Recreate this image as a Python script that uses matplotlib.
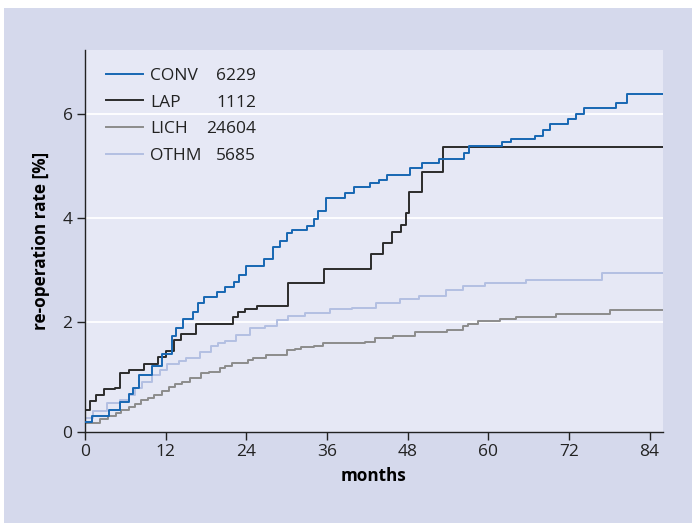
import matplotlib
matplotlib.use("Agg")
import matplotlib.pyplot as plt
from matplotlib.patches import Rectangle

# %%
# step curves: (month, re-operation rate %)
conv_months = [0, 1.1, 3.6, 5.2, 6.6, 7.2, 8.1, 9.9, 11.4, 12.9, 13.6, 14.6, 16.1, 16.8, 17.7,
               19.6, 20.9, 22.2, 22.9, 23.9, 26.7, 27.9, 29.0, 30.0, 30.8, 33.0, 34.0, 34.7,
               35.9, 38.7, 40.0, 42.4, 43.7, 44.9, 48.4, 50.2, 52.7, 56.4, 57.1, 62.1, 63.4,
               67.0, 68.2, 69.2, 71.8, 73.1, 74.3, 79.0, 80.7, 86]
conv_rate = [0.06, 0.17, 0.29, 0.44, 0.61, 0.71, 0.97, 1.14, 1.37, 1.72, 1.87, 2.05, 2.18, 2.36,
             2.48, 2.57, 2.67, 2.76, 2.90, 3.08, 3.21, 3.44, 3.56, 3.70, 3.77, 3.85, 3.98, 4.14,
             4.39, 4.48, 4.60, 4.67, 4.74, 4.82, 4.96, 5.06, 5.14, 5.25, 5.39, 5.46, 5.52, 5.59,
             5.70, 5.81, 5.91, 6.01, 6.13, 6.21, 6.39, 6.39]

lap_months = [0, 0.7, 1.7, 2.85, 4.5, 5.2, 6.5, 8.75, 10.9, 12.1, 13.3, 14.3, 16.5, 21.95, 22.7,
              23.8, 25.6, 30.2, 35.6, 42.6, 44.4, 45.7, 47.0, 47.7, 48.2, 50.2, 53.2, 86]
lap_rate = [0.30, 0.46, 0.59, 0.70, 0.72, 1.01, 1.06, 1.18, 1.32, 1.44, 1.64, 1.77, 1.95, 2.08,
            2.19, 2.25, 2.30, 2.74, 3.02, 3.30, 3.52, 3.72, 3.86, 4.09, 4.51, 4.88, 5.36, 5.36]

lich_months = [0, 2.2, 3.4, 4.6, 5.4, 6.6, 7.4, 8.4, 9.4, 10.2, 11.4, 12.5, 13.4, 14.4, 15.6,
               17.2, 18.5, 20.1, 20.9, 21.8, 24.3, 25.0, 27.0, 30.0, 31.2, 32.2, 34.0, 35.4,
               41.7, 43.1, 45.8, 49.1, 53.8, 56.3, 57.0, 58.4, 61.8, 64.2, 70.1, 78.1, 86]
lich_rate = [0.05, 0.13, 0.17, 0.24, 0.30, 0.35, 0.41, 0.48, 0.53, 0.59, 0.66, 0.74, 0.79, 0.84,
             0.92, 1.00, 1.03, 1.10, 1.14, 1.20, 1.26, 1.30, 1.35, 1.45, 1.48, 1.51, 1.53, 1.58,
             1.60, 1.68, 1.73, 1.79, 1.84, 1.92, 1.95, 2.02, 2.05, 2.09, 2.15, 2.23, 2.23]

othm_months = [0, 1.2, 3.3, 5.2, 6.5, 7.5, 8.5, 9.9, 11.2, 12.2, 14.0, 15.0, 17.1, 18.8, 19.8,
               20.8, 22.5, 24.5, 26.8, 28.5, 30.2, 32.7, 36.4, 39.7, 43.3, 46.9, 49.7, 53.7,
               56.2, 59.5, 65.6, 76.9, 86]
othm_rate = [0.14, 0.27, 0.42, 0.48, 0.58, 0.71, 0.84, 0.97, 1.06, 1.19, 1.24, 1.29, 1.42, 1.53,
             1.58, 1.63, 1.74, 1.87, 1.91, 2.03, 2.11, 2.17, 2.25, 2.27, 2.36, 2.43, 2.50, 2.60,
             2.68, 2.75, 2.81, 2.93, 2.93]

groups = ['CONV', 'LAP', 'LICH', 'OTHM']
counts = ['6229', '1112', '24604', '5685']
colors = ['#1767b3', '#2b2b2b', '#8c8c8c', '#b3bfe2']

xticks = [0, 12, 24, 36, 48, 60, 72, 84]

# %%
plt.rcParams['font.family'] = ['Open Sans', 'DejaVu Sans']

fig = plt.figure(figsize=(6.92, 5.23), dpi=100, facecolor='white')
fig.patches.append(Rectangle((4 / 692, 0), 1, 1 - 8 / 523, transform=fig.transFigure,
                             facecolor='#d5d9ec', edgecolor='none', zorder=-10))
ax = fig.add_axes([85 / 692, 1 - 432 / 523, (663 - 85) / 692, (432 - 50) / 523])
ax.set_zorder(1)
ax.set_facecolor('#e6e8f5')

series = [(conv_months, conv_rate), (lap_months, lap_rate),
          (lich_months, lich_rate), (othm_months, othm_rate)]
handles = []
for (m, r), c, g in zip(series, colors, groups):
    h, = ax.step(m, r, where='post', color=c, lw=1.4, label=g)
    handles.append(h)
# draw blue on top like the original
handles[0].set_zorder(5)

y0 = -0.13
ax.set_xlim(0, 86)
ax.set_ylim(y0, 7.24)
ax.set_xticks(xticks)
ax.set_xticklabels([str(t) for t in xticks])
ax.set_yticks([y0, 2, 4, 6])
ax.set_yticklabels(['0', '2', '4', '6'])
for yg in [2, 4, 6]:
    ax.axhline(yg, color='white', lw=1.3, zorder=1)

for s in ['top', 'right']:
    ax.spines[s].set_visible(False)
for s in ['left', 'bottom']:
    ax.spines[s].set_color('#222222')
    ax.spines[s].set_linewidth(1.0)
ax.tick_params(direction='out', length=6, width=1, colors='#222222', labelsize=12.5, pad=3)

ax.set_xlabel('months', fontsize=12.3, fontweight='bold', labelpad=5)
ax.set_ylabel('re-operation rate [%]', fontsize=12.3, fontweight='bold', labelpad=9)

leg = ax.legend(handles=handles, loc='upper left', bbox_to_anchor=(0.0235, 0.972), frameon=False,
                fontsize=12.5, handlelength=2.13, handletextpad=0.46, labelspacing=0.61,
                borderaxespad=0.0)
for t in leg.get_texts():
    t.set_color('#222222')

fig.canvas.draw()
inv = fig.transFigure.inverted()
for t, n in zip(leg.get_texts(), counts):
    bb = t.get_window_extent()
    yc = (bb.y0 + bb.y1) / 2
    _, yf = inv.transform((0, yc))
    fig.text(256 / 692, yf, n, ha='right', va='center', fontsize=12.5, color='#222222', zorder=5)

fig.savefig('out.png', dpi=100, facecolor=fig.get_facecolor())
